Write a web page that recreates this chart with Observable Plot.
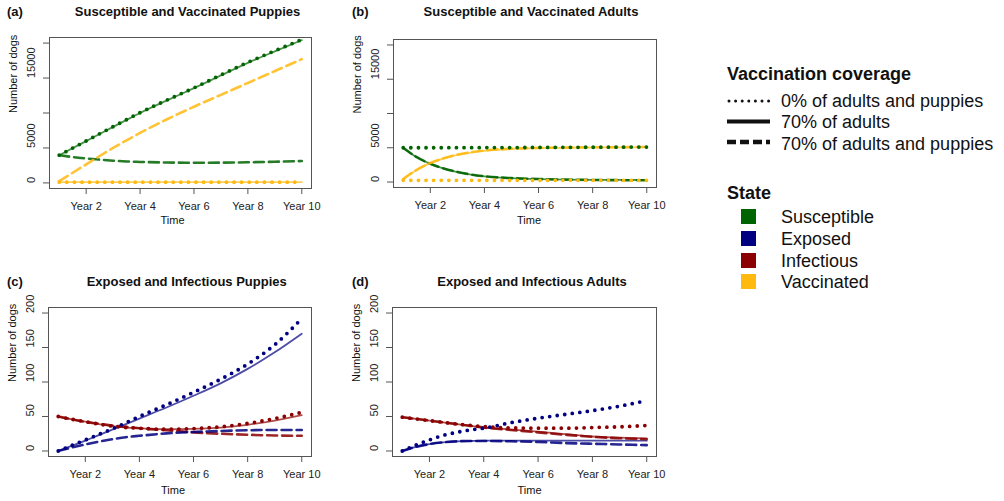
<!DOCTYPE html>
<html><head><meta charset="utf-8">
<script src="https://cdn.jsdelivr.net/npm/d3@7"></script>
<script src="https://cdn.jsdelivr.net/npm/@observablehq/plot@0.6"></script>
<style>
body{margin:0;background:#fff;font-family:"Liberation Sans",Arial,Helvetica,sans-serif;color:#111;}
#root{position:relative;width:1004px;height:501px;overflow:hidden;background:#fff;}
.abs{position:absolute;white-space:nowrap;}
.ttl{font-weight:bold;font-size:13px;line-height:16px;}
.ctr{text-align:center;width:400px;}
.lg{font-size:18px;line-height:22px;}
.lgb{font-size:18px;line-height:22px;font-weight:bold;}
.sq{position:absolute;width:15px;height:15px;}
</style></head><body><div id="root"></div>
<script>
// ---------- data ----------
const time = [1, 1.5, 2, 2.5, 3, 3.5, 4, 5, 6, 7, 8, 9, 10];
const xTicks = [2, 4, 6, 8, 10];
const xTickLabels = ["Year 2", "Year 4", "Year 6", "Year 8", "Year 10"];
const yTicksTop = [0, 5000, 10000, 15000, 20000];
const yLabelsTop = [0, 5000, 15000];
const yTicksBottom = [0, 50, 100, 150, 200];
const yLabelsBottom = [0, 50, 100, 150, 200];
const coverageLabels = ["0% of adults and puppies", "70% of adults", "70% of adults and puppies"];
const stateLabels = ["Susceptible", "Exposed", "Infectious", "Vaccinated"];
const stateColors = ["#006400", "#000080", "#8B0000", "#FFB90F"];
const panelTitles = ["Susceptible and Vaccinated Puppies", "Susceptible and Vaccinated Adults", "Exposed and Infectious Puppies", "Exposed and Infectious Adults"];
const panelLetters = ["(a)", "(b)", "(c)", "(d)"];

// (a) puppies: susceptible / vaccinated
const pupS_none   = [3960, 4980, 6000, 7030, 8050, 9050, 10050, 11850, 13600, 15450, 17250, 18900, 20500];
const pupS_adults = [3960, 4970, 5980, 7000, 8010, 9010, 10000, 11800, 13550, 15380, 17170, 18820, 20420];
const pupS_all    = [3960, 3700, 3500, 3330, 3180, 3070, 3000, 2920, 2890, 2900, 2950, 3030, 3130];
const pupV_none   = [100, 100, 100, 100, 100, 100, 100, 100, 100, 100, 100, 100, 100];
const pupV_adults = [100, 100, 100, 100, 100, 100, 100, 100, 100, 100, 100, 100, 100];
const pupV_all    = [250, 1450, 2650, 3850, 5000, 6100, 7150, 9100, 10900, 12600, 14300, 16000, 17700];
// (b) adults: susceptible / vaccinated
const adS_none   = [5000, 5000, 5000, 5005, 5010, 5015, 5020, 5030, 5045, 5060, 5075, 5090, 5100];
const adS_adults = [5000, 3600, 2640, 1950, 1450, 1080, 820, 560, 430, 360, 320, 300, 290];
const adS_all    = [5000, 3620, 2670, 1980, 1480, 1100, 840, 570, 430, 350, 300, 270, 250];
const adV_none   = [250, 250, 250, 250, 250, 250, 250, 250, 250, 250, 250, 250, 250];
const adV_adults = [450, 1750, 2750, 3450, 3950, 4300, 4560, 4830, 4950, 5000, 5040, 5060, 5080];
const adV_all    = [450, 1780, 2780, 3480, 3990, 4340, 4600, 4870, 4990, 5040, 5070, 5090, 5110];
// (c) puppies: exposed / infectious
const pupE_none   = [0, 8, 16, 24, 32, 41, 50, 67, 85, 104, 126, 154, 192];
const pupE_adults = [0, 7.5, 15, 23, 31, 39, 47, 63, 80, 98, 119, 143, 170];
const pupE_all    = [0, 5, 9.5, 13.5, 17, 20, 22, 25.5, 27.5, 29, 30, 30.5, 30.5];
const pupI_none   = [50, 46, 42.5, 39, 36, 34, 33, 31.5, 32.5, 35, 40, 47, 56];
const pupI_adults = [50, 46, 42.5, 39, 36, 34, 33, 31.5, 32, 34, 38, 44, 52];
const pupI_all    = [50, 46, 42, 39.5, 37, 35, 33, 30, 27, 25, 23.5, 22.5, 22];
// (d) adults: exposed / infectious
const adE_none   = [0, 8.5, 16, 22.5, 27, 30.5, 33, 41, 47.5, 53, 58.5, 65, 73];
const adE_adults = [0, 6, 10, 12.5, 14, 14.5, 15, 15, 15, 15, 15, 15, 15];
const adE_all    = [0, 6, 10, 12.5, 14, 14.5, 14.5, 14, 13, 11.5, 10.5, 9.5, 8.5];
const adI_none   = [49, 46.5, 44, 41.5, 39, 37, 35.3, 33.5, 33, 33, 34, 35, 37];
const adI_adults = [49, 46.5, 44, 41.5, 39, 36.5, 34, 31, 28, 24.5, 21, 19.5, 18.3];
const adI_all    = [49, 46.5, 44, 41.5, 39, 36.5, 34, 30.5, 27, 23.5, 20.5, 18.5, 17];

// ---------- drawing ----------
const root = document.getElementById("root");
const color = Object.fromEntries(stateLabels.map((s, i) => [s, stateColors[i]]));
const styles = [
  {strokeWidth: 3.8, strokeDasharray: "0 7.6", strokeLinecap: "round", strokeOpacity: 1},
  {strokeWidth: 1.8, strokeOpacity: 0.7},
  {strokeWidth: 2.6, strokeDasharray: "10 5", strokeOpacity: 0.85}
];

const panels = [
  {series: [["Susceptible", [pupS_none, pupS_adults, pupS_all]], ["Vaccinated", [pupV_none, pupV_adults, pupV_all]]],
   top: true, left: 0, topPx: 0, width: 335, height: 235, ml: 49, mr: 24, mt: 37, mb: 47, timeDx: -8, timeDy: 35,
   titleX: 187.5, titleY: 4, letterX: 7},
  {series: [["Susceptible", [adS_none, adS_adults, adS_all]], ["Vaccinated", [adV_none, adV_adults, adV_all]]],
   top: true, left: 340, topPx: 0, width: 335, height: 235, ml: 53, mr: 19, mt: 39, mb: 48, timeDx: 4, timeDy: 36,
   titleX: 531, titleY: 4, letterX: 352},
  {series: [["Infectious", [pupI_none, pupI_adults, pupI_all]], ["Exposed", [pupE_none, pupE_adults, pupE_all]]],
   top: false, left: 0, topPx: 265, width: 335, height: 236, ml: 48, mr: 24, mt: 42, mb: 45, timeDx: -7, timeDy: 37,
   titleX: 186.7, titleY: 274, letterX: 7},
  {series: [["Infectious", [adI_none, adI_adults, adI_all]], ["Exposed", [adE_none, adE_adults, adE_all]]],
   top: false, left: 340, topPx: 265, width: 335, height: 236, ml: 52, mr: 19, mt: 42, mb: 45, timeDx: 5, timeDy: 37,
   titleX: 532, titleY: 274, letterX: 352}
];

panels.forEach((p, pi) => {
  const marks = [
    Plot.frame({stroke: "#555", strokeWidth: 1}),
    Plot.axisX({ticks: xTicks, tickFormat: d => xTickLabels[xTicks.indexOf(d)], tickSize: 6, tickPadding: 8, fontSize: 11, label: null, stroke: "#555", fill: "#222"}),
    Plot.axisY({ticks: p.top ? yTicksTop : yTicksBottom, tickSize: 6, tickFormat: () => "", label: null, stroke: "#555"}),
    Plot.text(p.top ? yLabelsTop : yLabelsBottom, {y: d => d, text: d => String(d), frameAnchor: "left", dx: -18, rotate: -90, fontSize: 11, fill: "#222"}),
    Plot.text(["Number of dogs"], {text: d => d, frameAnchor: "left", dx: -36, rotate: -90, fontSize: 11, fill: "#111"}),
    Plot.text(["Time"], {text: d => d, frameAnchor: "bottom", dx: p.timeDx, dy: p.timeDy, fontSize: 11, fill: "#111"})
  ];
  // draw order: solid, dashed, dotted
  [1, 2, 0].forEach(ci => {
    p.series.forEach(([state, arrs]) => {
      const rows = time.map((t, i) => ({t, v: arrs[ci][i]}));
      marks.push(Plot.line(rows, {x: "t", y: "v", stroke: color[state], curve: "monotone-x", ...styles[ci]}));
    });
  });
  const svg = Plot.plot({
    width: p.width, height: p.height,
    marginLeft: p.ml, marginRight: p.mr, marginTop: p.mt, marginBottom: p.mb,
    x: {domain: [0.64, 10.36]},
    y: {domain: p.top ? [-800, 20800] : [-8, 208]},
    style: {fontFamily: '"Liberation Sans", Arial, Helvetica, sans-serif', fontSize: "11px", background: "transparent", overflow: "visible", color: "#222"},
    marks
  });
  svg.style.position = "absolute";
  svg.style.left = p.left + "px";
  svg.style.top = p.topPx + "px";
  root.appendChild(svg);

  const t = document.createElement("div");
  t.className = "abs ttl ctr";
  t.style.left = (p.titleX - 200) + "px";
  t.style.top = p.titleY + "px";
  t.textContent = panelTitles[pi];
  root.appendChild(t);
  const l = document.createElement("div");
  l.className = "abs ttl";
  l.style.left = p.letterX + "px";
  l.style.top = p.titleY + "px";
  l.textContent = panelLetters[pi];
  root.appendChild(l);
});

// ---------- legend ----------
function addDiv(cls, text, left, top) {
  const d = document.createElement("div");
  d.className = "abs " + cls;
  d.style.left = left + "px";
  d.style.top = top + "px";
  d.textContent = text;
  root.appendChild(d);
  return d;
}
addDiv("lgb", "Vaccination coverage", 727, 62.5);
const covCenters = [101, 121.5, 143.5];
const symCenters = [101, 121.5, 142];
const ns = "http://www.w3.org/2000/svg";
const legSvg = document.createElementNS(ns, "svg");
legSvg.setAttribute("width", 60); legSvg.setAttribute("height", 70);
legSvg.style.position = "absolute"; legSvg.style.left = "722px"; legSvg.style.top = "85px";
const symStyles = [
  {w: 3, dash: "0 6.6", cap: "round"},
  {w: 4, dash: null, cap: "butt"},
  {w: 4.5, dash: "9 4", cap: "butt"}
];
coverageLabels.forEach((lab, i) => {
  addDiv("lg", lab, 781, covCenters[i] - 10.8);
  const ln = document.createElementNS(ns, "line");
  const y = symCenters[i] - 85;
  ln.setAttribute("x1", i === 0 ? 7 : 5); ln.setAttribute("x2", 48);
  ln.setAttribute("y1", y); ln.setAttribute("y2", y);
  ln.setAttribute("stroke", "#111");
  ln.setAttribute("stroke-width", symStyles[i].w);
  ln.setAttribute("stroke-linecap", symStyles[i].cap);
  if (symStyles[i].dash) ln.setAttribute("stroke-dasharray", symStyles[i].dash);
  legSvg.appendChild(ln);
});
root.appendChild(legSvg);
addDiv("lgb", "State", 727, 181.7);
const stateCenters = [216.7, 239.2, 260.8, 282.2];
stateLabels.forEach((s, i) => {
  addDiv("lg", s, 781, stateCenters[i] - 10.8);
  const q = document.createElement("div");
  q.className = "sq";
  q.style.left = "741px";
  q.style.top = (stateCenters[i] - 8) + "px";
  q.style.background = stateColors[i];
  root.appendChild(q);
});
</script></body></html>
